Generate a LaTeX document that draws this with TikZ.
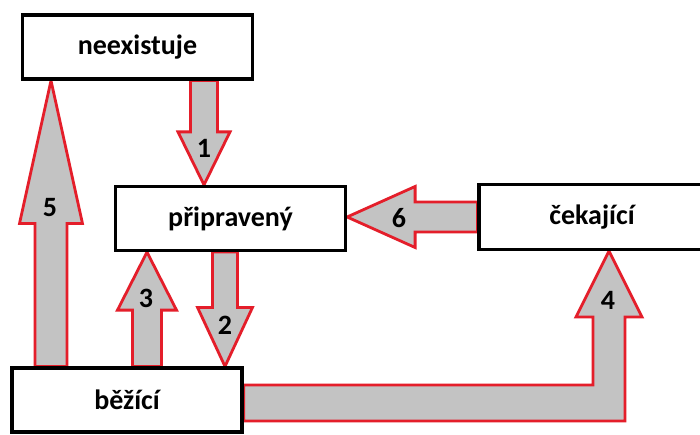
\documentclass[tikz,border=0pt]{standalone}
\usepackage{fontspec}
\setmainfont{Carlito}
\usetikzlibrary{calc}
\definecolor{arrowred}{RGB}{228,30,42}
\definecolor{arrowgray}{RGB}{195,195,195}
\pgfdeclarelayer{background}
\pgfsetlayers{background,main}
% straight block arrow: from, to, shaft half-width, head half-width, head length
\newcommand\blockarrow[5]{%
  \path (#1) coordinate (bas) (#2) coordinate (bae)
        ($(bae)!#5!(bas)$) coordinate (bah);
  \draw[blockarrow] ($(bas)!#3!90:(bae)$) -- ($(bah)!#3!-90:(bas)$)
    -- ($(bah)!#4!-90:(bas)$) -- (bae) -- ($(bah)!#4!90:(bas)$)
    -- ($(bah)!#3!90:(bas)$) -- ($(bas)!#3!-90:(bae)$) -- cycle;}
\begin{document}
\begin{tikzpicture}[x=1pt,y=-1pt,
  box/.style={draw=black,line width=3.2pt,fill=white,minimum width=230pt,
    minimum height=64pt,inner sep=0pt,font=\fontsize{28}{32}\selectfont\bfseries},
  blockarrow/.style={draw=arrowred,fill=arrowgray,line width=2.8pt,line join=miter},
  num/.style={font=\fontsize{28}{32}\selectfont\bfseries,inner sep=0pt}]
\useasboundingbox (0,0) rectangle (700,435);

% states
\node[box] (neex) at (137.5,47) {neexistuje};
\node[box] (prip) at (230.5,218.5) {připravený};
\node[box] (bez) at (127,400) {běžící};
\node[box,minimum width=226pt,minimum height=65pt] (cek) at (592,217) {čekající};

% transitions
\begin{pgfonlayer}{background}
  \fill[white] (0,0) rectangle (700,435);
  \blockarrow{neex.south -| 204,0}{prip.north -| 204,0}{13.5pt}{26pt}{53pt}
  \blockarrow{prip.south -| 225,0}{bez.north -| 225,0}{12.5pt}{27.5pt}{59pt}
  \blockarrow{bez.north -| 147,0}{prip.south -| 147,0}{14.5pt}{29.5pt}{58pt}
  \blockarrow{bez.north -| 51,0}{neex.south -| 51,0}{16pt}{31.5pt}{143pt}
  \blockarrow{cek.west |- 0,217}{prip.east |- 0,217}{15pt}{30.5pt}{68pt}
  \draw[blockarrow] (bez.east |- 0,385) -- (593,385) -- (593,317) -- (576,317)
    -- (cek.south -| 609,0) -- (642,317) -- (625,317) -- (625,421)
    -- (bez.east |- 0,421) -- cycle;
\end{pgfonlayer}

% transition numbers
\node[num] (n1) at (204,148) {1};
\node[num] (n2) at (225,325) {2};
\node[num] (n3) at (146,298) {3};
\node[num] (n4) at (608,300) {4};
\node[num] (n5) at (50,208) {5};
\node[num] (n6) at (399,218) {6};
\end{tikzpicture}
\end{document}
